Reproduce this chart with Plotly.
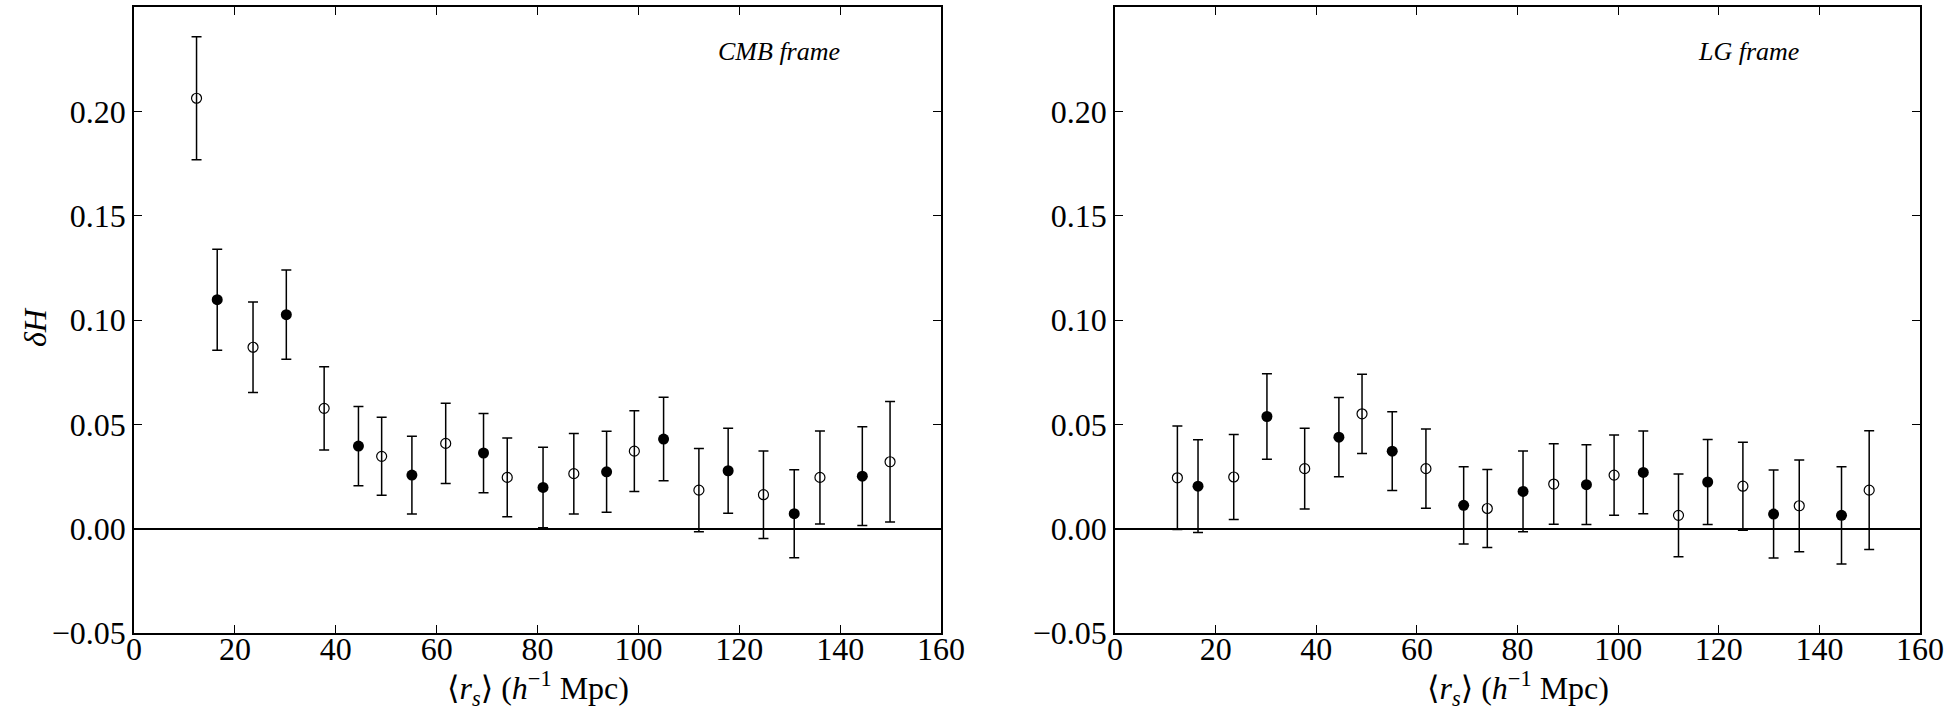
import plotly.graph_objects as go

# ---- data ----
x_open = [12.4, 23.6, 37.7, 49.1, 61.8, 74.0, 87.2, 99.2, 112.0, 124.8, 136.0, 149.9]
x_filled = [16.5, 30.2, 44.5, 55.1, 69.3, 81.1, 93.7, 105.0, 117.8, 130.9, 144.4]

cmb_open = [0.2064, 0.0870, 0.0577, 0.0347, 0.0409, 0.0246, 0.0264, 0.0372, 0.0185, 0.0163, 0.0246, 0.0321]
cmb_open_err = [0.0295, 0.0217, 0.0200, 0.0187, 0.0192, 0.0189, 0.0193, 0.0194, 0.0200, 0.0210, 0.0223, 0.0289]
cmb_filled = [0.1098, 0.1026, 0.0396, 0.0257, 0.0363, 0.0198, 0.0273, 0.0430, 0.0278, 0.0072, 0.0252]
cmb_filled_err = [0.0242, 0.0214, 0.0190, 0.0186, 0.0190, 0.0193, 0.0194, 0.0200, 0.0204, 0.0211, 0.0237]

lg_open = [0.0244, 0.0248, 0.0288, 0.0551, 0.0288, 0.0097, 0.0214, 0.0257, 0.0064, 0.0204, 0.0110, 0.0185]
lg_open_err = [0.0248, 0.0204, 0.0194, 0.0190, 0.0190, 0.0187, 0.0193, 0.0192, 0.0198, 0.0211, 0.0220, 0.0285]
lg_filled = [0.0204, 0.0538, 0.0439, 0.0372, 0.0112, 0.0179, 0.0211, 0.0270, 0.0224, 0.0070, 0.0064]
lg_filled_err = [0.0222, 0.0205, 0.0190, 0.0189, 0.0185, 0.0194, 0.0191, 0.0198, 0.0204, 0.0211, 0.0233]

x_ticks = [0, 20, 40, 60, 80, 100, 120, 140, 160]
y_ticks = [-0.05, 0.0, 0.05, 0.10, 0.15, 0.20]
panel_labels = ["CMB frame", "LG frame"]

FONT = "Liberation Serif, DejaVu Serif, serif"
W, H = 1959, 710

fig = go.Figure()

def add_panel(xa, ya, yo, yo_err, yf, yf_err):
    fig.add_trace(go.Scatter(
        x=x_open, y=yo, mode="markers", xaxis=xa, yaxis=ya,
        marker=dict(symbol="circle-open", size=10, color="black", line=dict(width=1.2)),
        error_y=dict(type="data", array=yo_err, visible=True, color="black", thickness=1.5, width=5),
        showlegend=False))
    fig.add_trace(go.Scatter(
        x=x_filled, y=yf, mode="markers", xaxis=xa, yaxis=ya,
        marker=dict(symbol="circle", size=11, color="black"),
        error_y=dict(type="data", array=yf_err, visible=True, color="black", thickness=1.5, width=5),
        showlegend=False))

add_panel("x", "y", cmb_open, cmb_open_err, cmb_filled, cmb_filled_err)
add_panel("x2", "y2", lg_open, lg_open_err, lg_filled, lg_filled_err)

axis_common = dict(
    showline=True, linecolor="black", linewidth=1.5, mirror="ticks",
    ticks="inside", ticklen=8, tickwidth=1, tickcolor="black",
    showgrid=False, automargin=False,
    tickfont=dict(family=FONT, size=32, color="black"),
)

ydom = [(H - 633) / H, (H - 7.3) / H]
xdom1 = [134 / W, 941 / W]
xdom2 = [1115 / W, 1920 / W]

for i, (xname, yname, xdom) in enumerate([("xaxis", "yaxis", xdom1), ("xaxis2", "yaxis2", xdom2)]):
    suffix = "" if i == 0 else "2"
    fig.update_layout(**{
        xname: dict(axis_common, domain=xdom, range=[0, 160], tickvals=x_ticks, zeroline=False,
                    anchor="y" + suffix, ticklabelstandoff=-13),
        yname: dict(axis_common, domain=ydom, range=[-0.05, 0.25], tickvals=y_ticks, tickformat=".2f",
                    zeroline=True, zerolinecolor="black", zerolinewidth=1.5, anchor="x" + suffix),
    })

annotations = []
for i, lab in enumerate(panel_labels):
    suffix = "" if i == 0 else "2"
    annotations.append(dict(text=f"<i>{lab}</i>", x=115.4, y=0.229, xref="x" + suffix, yref="y" + suffix,
                            xanchor="left", yanchor="middle", showarrow=False,
                            font=dict(family=FONT, size=26, color="black")))
    xc = (xdom1 if i == 0 else xdom2)
    annotations.append(dict(text="⟨<i>r<sub>s</sub></i>⟩ (<i>h</i><sup>−1</sup> Mpc)",
                            x=(xc[0] + xc[1]) / 2, y=(H - 664) / H, xref="paper", yref="paper",
                            xanchor="center", yanchor="top", showarrow=False,
                            font=dict(family=FONT, size=32, color="black")))
annotations.append(dict(text="<i>δH</i>", x=35 / W, y=(H - 327) / H, xref="paper", yref="paper",
                        xanchor="center", yanchor="middle", textangle=-90, showarrow=False,
                        font=dict(family=FONT, size=32, color="black")))

fig.update_layout(
    width=W, height=H, margin=dict(l=0, r=0, t=0, b=0, autoexpand=False),
    paper_bgcolor="white", plot_bgcolor="white",
    annotations=annotations, showlegend=False,
)

fig.write_html(
    "out.html",
    config={"displayModeBar": False},
    post_script="document.body.style.margin='0px';document.body.style.overflow='hidden';",
)
